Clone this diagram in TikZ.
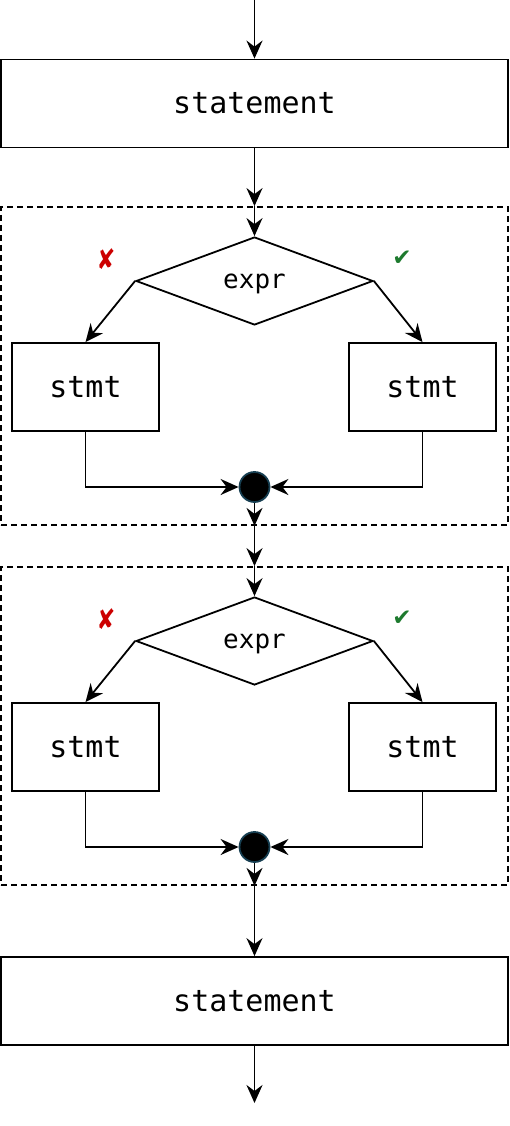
\documentclass[tikz,border=0pt]{standalone}
\usepackage{fontspec}
\setmonofont{DejaVu Sans Mono}
\newfontfamily\symfont{DejaVu Sans}
\usetikzlibrary{shapes.geometric,arrows.meta,calc}
\definecolor{crossred}{HTML}{CC0000}
\definecolor{checkgreen}{HTML}{1E7A2E}
\definecolor{circstroke}{HTML}{173F52}
\tikzset{
  lw/.style={line width=1.8pt},
  arr/.style={lw,-{Stealth[length=18pt,width=16pt,inset=6pt]}},
  stmtbox/.style={draw,lw,rectangle,minimum width=147pt,minimum height=88pt,inner sep=0pt,text height=21pt,text depth=0pt,font=\fontsize{30}{31}\selectfont\ttfamily},
  bigbox/.style={draw,lw,rectangle,minimum width=507pt,minimum height=88pt,inner sep=0pt,text height=21pt,text depth=0pt,font=\fontsize{30}{31}\selectfont\ttfamily},
  condbox/.style={draw,lw,diamond,aspect=2.7,minimum width=237pt,minimum height=88pt,inner sep=0pt,text height=15pt,text depth=0pt,font=\fontsize{26}{27}\selectfont\ttfamily},
  groupbox/.style={draw,lw,dashed,dash pattern=on 6pt off 4pt,rectangle,minimum width=507pt,minimum height=318pt,inner sep=0pt},
  joinpt/.style={circle,fill=black,draw=circstroke,line width=1.8pt,minimum size=30pt,inner sep=0pt},
  crossmark/.style={text=crossred,font=\symfont\fontsize{28}{28}\selectfont,inner sep=0pt,xscale=0.8},
  checkmark/.style={text=checkgreen,font=\symfont\fontsize{23}{23}\selectfont,inner sep=0pt},
}
\begin{document}
\begin{tikzpicture}[x=1pt,y=-1pt]
\useasboundingbox (0,0) rectangle (510,1126);
\coordinate (start) at (254.5,0);
\node[bigbox] (s1) at (254.5,103.5) {statement};
\foreach \i/\dy in {1/0,2/360}{
  \node[groupbox] (g\i) at (254.5,366+\dy) {};
  \node[condbox] (d\i) at (254.5,281+\dy) {expr};
  \node[stmtbox] (l\i) at (85.5,387+\dy) {stmt};
  \node[stmtbox] (r\i) at (422.5,387+\dy) {stmt};
  \node[joinpt] (c\i) at (254.5,487+\dy) {};
  \node[crossmark] (x\i) at (106,259+\dy) {✘};
  \node[checkmark] (k\i) at (402,258+\dy) {✔};
  \draw[arr] (g\i.north) -- (d\i.north);
  \draw[arr] (d\i.west) -- (l\i.north);
  \draw[arr] (d\i.east) -- (r\i.north);
  \draw[arr] (l\i.south) |- (c\i.west);
  \draw[arr] (r\i.south) |- (c\i.east);
  \draw[arr] (c\i.south) -- (g\i.south);
}
\node[bigbox] (s2) at (254.5,1001) {statement};
\coordinate (stop) at (254.5,1103);
\draw[arr] (start) -- (s1.north);
\draw[arr] (s1.south) -- (g1.north);
\draw[arr] (g1.south) -- (g2.north);
\draw[arr] (g2.south) -- (s2.north);
\draw[arr] (s2.south) -- (stop);
\end{tikzpicture}
\end{document}
